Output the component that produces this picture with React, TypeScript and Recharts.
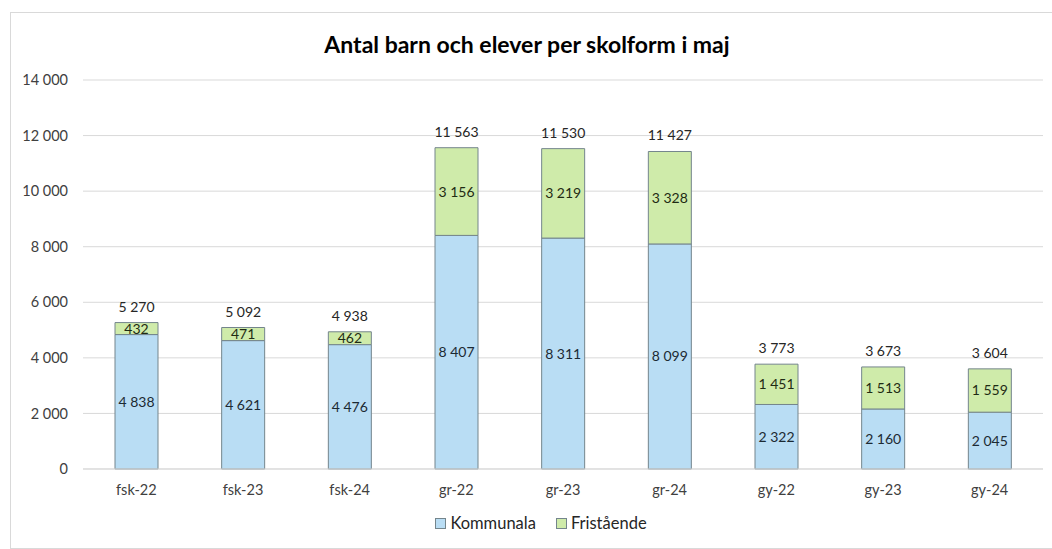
import { BarChart, Bar, XAxis, YAxis, CartesianGrid, LabelList } from 'recharts'

const categories = ['fsk-22', 'fsk-23', 'fsk-24', 'gr-22', 'gr-23', 'gr-24', 'gy-22', 'gy-23', 'gy-24']
const kommunala = [4838, 4621, 4476, 8407, 8311, 8099, 2322, 2160, 2045]
const fristaende = [432, 471, 462, 3156, 3219, 3328, 1451, 1513, 1559]
const yTicks = [0, 2000, 4000, 6000, 8000, 10000, 12000, 14000]

const data = categories.map((name, i) => ({
  name,
  kommunala: kommunala[i],
  fristaende: fristaende[i],
  total: kommunala[i] + fristaende[i],
}))

const fmt = (v: number | string) => String(v).replace(/\B(?=(\d{3})+(?!\d))/g, ' ')

const FONT = 'Lato, "Open Sans", sans-serif'
const BLUE = '#B9DDF4'
const GREEN = '#CFEBAA'
const EDGE = '#74858c'

// total above each stack, drawn as plain text so it doesn't wrap to bar width
const TotalLabel = (props: any) => {
  const { x, y, width, value } = props
  return (
    <text
      x={Number(x) + Number(width) / 2}
      y={Number(y) - 11}
      textAnchor="middle"
      style={{ fontFamily: FONT, fontSize: 14, fill: '#262626' }}
    >
      {fmt(value)}
    </text>
  )
}

function ChartLegend() {
  const items = [
    { label: 'Kommunala', color: BLUE },
    { label: 'Fristående', color: GREEN },
  ]
  return (
    <div
      style={{
        position: 'absolute',
        left: 0,
        top: 513,
        width: 1082,
        display: 'flex',
        justifyContent: 'center',
        gap: 20,
        fontFamily: FONT,
        fontSize: 16.5,
        color: '#262626',
      }}
    >
      {items.map((it) => (
        <div key={it.label} style={{ display: 'flex', alignItems: 'center', gap: 4 }}>
          <span style={{ width: 9, height: 9, background: it.color, border: `1px solid ${EDGE}`, display: 'inline-block' }} />
          <span>{it.label}</span>
        </div>
      ))}
    </div>
  )
}

export default function App() {
  return (
    <div style={{ position: 'absolute', left: 0, top: 0, width: 1052, height: 549, background: '#fff', overflow: 'hidden' }}>
      <div
        style={{
          position: 'absolute',
          left: 10,
          top: 12,
          width: 1060,
          height: 535,
          border: '1px solid #d9d9d9',
        }}
      />
      <div
        style={{
          position: 'absolute',
          left: 0,
          top: 30,
          width: 1054,
          textAlign: 'center',
          fontFamily: FONT,
          fontWeight: 700,
          fontSize: 23,
          color: '#000',
        }}
      >
        Antal barn och elever per skolform i maj
      </div>
      <BarChart
        width={1052}
        height={549}
        data={data}
        margin={{ top: 80, right: 9, left: 0, bottom: 0 }}
        barSize={43}
        style={{ position: 'absolute', left: 0, top: 0 }}
      >
        <CartesianGrid vertical={false} stroke="#d9d9d9" />
        <XAxis
          dataKey="name"
          tickLine={false}
          axisLine={{ stroke: '#d9d9d9' }}
          tick={{ fontFamily: FONT, fontSize: 14.5, fill: '#404040' }}
          tickMargin={10}
          height={80}
        />
        <YAxis
          width={83}
          domain={[0, 14000]}
          ticks={yTicks}
          tickLine={false}
          axisLine={false}
          tickMargin={9}
          tickFormatter={fmt}
          tick={{ fontFamily: FONT, fontSize: 14.5, fill: '#404040' }}
        />
        <Bar dataKey="kommunala" stackId="a" fill={BLUE} stroke={EDGE} strokeWidth={1} isAnimationActive={false}>
          <LabelList
            dataKey="kommunala"
            position="center"
            formatter={fmt}
            style={{ fontFamily: FONT, fontSize: 14, fill: '#1c2a33' }}
          />
        </Bar>
        <Bar dataKey="fristaende" stackId="a" fill={GREEN} stroke={EDGE} strokeWidth={1} isAnimationActive={false}>
          <LabelList
            dataKey="fristaende"
            position="center"
            formatter={fmt}
            style={{ fontFamily: FONT, fontSize: 14, fill: '#1f2b14' }}
          />
          <LabelList dataKey="total" content={TotalLabel} />
        </Bar>
      </BarChart>
      <ChartLegend />
    </div>
  )
}
